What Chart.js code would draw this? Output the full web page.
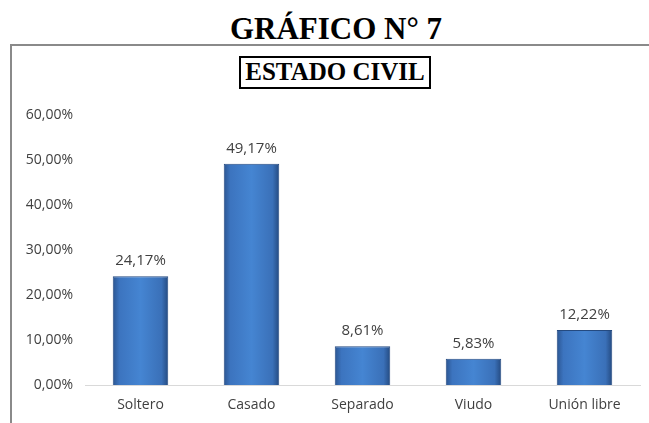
<!DOCTYPE html>
<html>
<head>
<meta charset="utf-8">
<script src="https://cdn.jsdelivr.net/npm/chart.js@4"></script>
<style>
  html, body { margin: 0; padding: 0; background: #fff; }
  #wrap { position: relative; width: 649px; height: 423px; overflow: hidden; }
  #mainTitle {
    position: absolute; left: 0; width: 672px; top: 11px; text-align: center;
    font: bold 31px "Liberation Serif", "Times New Roman", serif; color: #000;
  }
  #frame {
    position: absolute; left: 10px; top: 44px; width: 700px; height: 400px;
    border-left: 2px solid #8a8a8a; border-top: 2px solid #8a8a8a;
  }
  #subTitle {
    position: absolute; left: 239px; top: 56px; width: 188px; height: 29px;
    border: 2px solid #000; text-align: center; line-height: 31px;
    font: bold 25px "Liberation Serif", "Times New Roman", serif; color: #000;
  }
  canvas { position: absolute; left: 0; top: 0; }
</style>
</head>
<body>
<div id="wrap">
  <div id="mainTitle">GRÁFICO N° 7</div>
  <div id="frame"></div>
  <div id="subTitle">ESTADO CIVIL</div>
  <canvas id="chart" width="649" height="423"></canvas>
</div>
<script>
// ========== Data ==========
const categories = ["Soltero", "Casado", "Separado", "Viudo", "Unión libre"];
const percentages = [24.17, 49.17, 8.61, 5.83, 12.22];
const yTicks = [0, 10, 20, 30, 40, 50, 60];

const fmt = (v) => v.toFixed(2).replace(".", ",") + "%";
const BAR_PCT = 0.5;

// ========== Bar shading (per-bar horizontal gradient) ==========
function barFill(c) {
  const chart = c.chart;
  const xs = chart.scales.x;
  if (!xs || xs.width == null || c.dataIndex == null) return "#3c74bf";
  const cx = xs.getPixelForValue(c.dataIndex);
  const w = (xs.width / categories.length) * BAR_PCT;
  const g = chart.ctx.createLinearGradient(cx - w / 2, 0, cx + w / 2, 0);
  g.addColorStop(0, "#2b5591");
  g.addColorStop(0.12, "#3c74bf");
  g.addColorStop(0.5, "#4585d2");
  g.addColorStop(0.88, "#3a70b8");
  g.addColorStop(1, "#244a80");
  return g;
}

// ========== Value labels ==========
const valueLabels = {
  id: "valueLabels",
  afterDatasetsDraw(chart) {
    const ctx = chart.ctx;
    ctx.save();
    ctx.font = '15px "Open Sans", "DejaVu Sans", sans-serif';
    ctx.fillStyle = "#404040";
    ctx.textAlign = "center";
    ctx.textBaseline = "bottom";
    chart.getDatasetMeta(0).data.forEach((bar, i) => {
      ctx.fillText(fmt(percentages[i]), bar.x, bar.y - 8);
    });
    ctx.restore();
  },
};

// ========== Chart ==========
new Chart(document.getElementById("chart").getContext("2d"), {
  type: "bar",
  data: {
    labels: categories,
    datasets: [{
      data: percentages,
      backgroundColor: barFill,
      borderColor: "#244a80",
      borderWidth: 1,
      categoryPercentage: 1,
      barPercentage: BAR_PCT,
    }],
  },
  options: {
    responsive: false,
    animation: false,
    layout: { padding: { left: 10, right: 9, top: 115, bottom: 0 } },
    plugins: {
      legend: { display: false },
      tooltip: { enabled: false },
    },
    scales: {
      x: {
        grid: { display: false, drawTicks: false },
        border: { color: "#d9d9d9", width: 1 },
        ticks: {
          color: "#404040",
          padding: 12,
          font: { family: '"Open Sans", "DejaVu Sans", sans-serif', size: 14 },
        },
        afterFit: (s) => { s.height = 38; },
      },
      y: {
        min: 0,
        max: 60,
        afterBuildTicks: (s) => { s.ticks = yTicks.map((v) => ({ value: v })); },
        grid: { display: false, drawTicks: false },
        border: { display: false },
        ticks: {
          color: "#404040",
          padding: 12,
          font: { family: '"Open Sans", "DejaVu Sans", sans-serif', size: 14 },
          callback: (v) => fmt(v),
        },
        afterFit: (s) => { s.width = 75; },
      },
    },
  },
  plugins: [valueLabels],
});
</script>
</body>
</html>
